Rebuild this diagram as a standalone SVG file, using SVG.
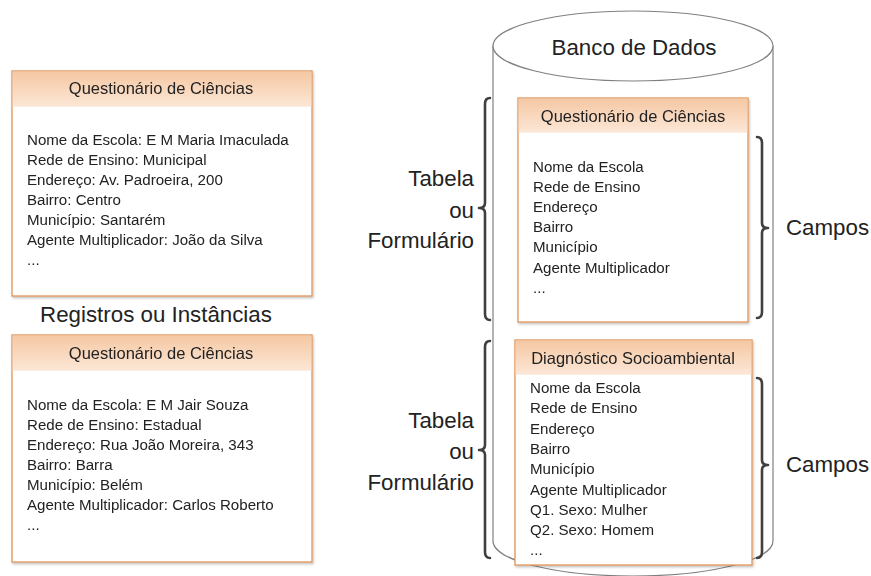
<svg xmlns="http://www.w3.org/2000/svg" width="871" height="576" viewBox="0 0 871 576">
<defs>
<linearGradient id="hdr" x1="0" y1="0" x2="0" y2="1">
<stop offset="0" stop-color="#F5C8A3"/>
<stop offset="1" stop-color="#FCE7D7"/>
</linearGradient>
<filter id="sh" x="-5%" y="-5%" width="110%" height="110%">
<feDropShadow dx="1" dy="1.5" stdDeviation="1.2" flood-color="#000" flood-opacity="0.25"/>
</filter>
</defs>
<style>
text{font-family:"Liberation Sans",Arial,sans-serif;fill:#222}
.box{fill:#fff;stroke:#E0955A;stroke-width:1.3}
.hd{fill:url(#hdr)}
.ht{font-size:16.5px;text-anchor:middle}
.bt{font-size:15.1px}
.big{font-size:22.3px}
.r{text-anchor:end}
.brace{fill:none;stroke:#404040;stroke-width:2.6;stroke-linejoin:round;stroke-linecap:round}
.cyl{fill:#fff;stroke:#808080;stroke-width:1.2}
</style>
<rect width="871" height="576" fill="#fff"/>

<g id="database">
<path class="cyl" d="M493,46 L493,541 A140,35 0 0 0 773,541 L773,46"/>
<ellipse class="cyl" cx="633" cy="46" rx="140" ry="35"/>
<text class="big" x="634" y="55" text-anchor="middle">Banco de Dados</text>
</g>

<g id="record1" filter="url(#sh)">
<rect class="box" x="12" y="71" width="300" height="225"/>
<rect class="hd" x="12.7" y="71.7" width="298.6" height="35"/>
<text class="ht" x="161" y="94">Questionário de Ciências</text>
<text class="bt" x="27" y="145">Nome da Escola: E M Maria Imaculada</text>
<text class="bt" x="27" y="165">Rede de Ensino: Municipal</text>
<text class="bt" x="27" y="185">Endereço: Av. Padroeira, 200</text>
<text class="bt" x="27" y="205">Bairro: Centro</text>
<text class="bt" x="27" y="225">Município: Santarém</text>
<text class="bt" x="27" y="245">Agente Multiplicador: João da Silva</text>
<text class="bt" x="27" y="265">...</text>
</g>

<text class="big" x="156" y="322" text-anchor="middle">Registros ou Instâncias</text>

<g id="record2" filter="url(#sh)">
<rect class="box" x="12" y="335" width="300" height="227"/>
<rect class="hd" x="12.7" y="335.7" width="298.6" height="35"/>
<text class="ht" x="161" y="359">Questionário de Ciências</text>
<text class="bt" x="27" y="410">Nome da Escola: E M Jair Souza</text>
<text class="bt" x="27" y="430">Rede de Ensino: Estadual</text>
<text class="bt" x="27" y="450">Endereço: Rua João Moreira, 343</text>
<text class="bt" x="27" y="470">Bairro: Barra</text>
<text class="bt" x="27" y="490">Município: Belém</text>
<text class="bt" x="27" y="510">Agente Multiplicador: Carlos Roberto</text>
<text class="bt" x="27" y="530">...</text>
</g>

<g id="table1" filter="url(#sh)">
<rect class="box" x="518" y="98" width="230" height="224"/>
<rect class="hd" x="518.7" y="98.7" width="228.6" height="34"/>
<text class="ht" x="633" y="122">Questionário de Ciências</text>
<text class="bt" x="533" y="172">Nome da Escola</text>
<text class="bt" x="533" y="192">Rede de Ensino</text>
<text class="bt" x="533" y="212">Endereço</text>
<text class="bt" x="533" y="232">Bairro</text>
<text class="bt" x="533" y="252">Município</text>
<text class="bt" x="533" y="273">Agente Multiplicador</text>
<text class="bt" x="533" y="293">...</text>
</g>

<g id="table2" filter="url(#sh)">
<rect class="box" x="515" y="340" width="237" height="225"/>
<rect class="hd" x="515.7" y="340.7" width="235.6" height="34"/>
<text class="ht" x="633" y="364">Diagnóstico Socioambiental</text>
<text class="bt" x="530" y="393">Nome da Escola</text>
<text class="bt" x="530" y="413">Rede de Ensino</text>
<text class="bt" x="530" y="434">Endereço</text>
<text class="bt" x="530" y="454">Bairro</text>
<text class="bt" x="530" y="474">Município</text>
<text class="bt" x="530" y="495">Agente Multiplicador</text>
<text class="bt" x="530" y="515">Q1. Sexo: Mulher</text>
<text class="bt" x="530" y="535">Q2. Sexo: Homem</text>
<text class="bt" x="530" y="555">...</text>
</g>

<g id="connectors">
<path class="brace" d="M490,98 Q485,98 485,104 L485,203 Q485,208 479,208 Q485,208 485,213 L485,314 Q485,320 490,320"/>
<path class="brace" d="M490,341 Q485,341 485,347 L485,445 Q485,450 479,450 Q485,450 485,455 L485,552 Q485,558 490,558"/>
<path class="brace" d="M757,137 Q762,137 762,143 L762,223 Q762,228 768,228 Q762,228 762,233 L762,312 Q762,318 757,318"/>
<path class="brace" d="M757,378 Q762,378 762,384 L762,460 Q762,465 768,465 Q762,465 762,470 L762,552 Q762,558 757,558"/>
</g>

<g id="labels">
<text class="big r" x="474" y="186">Tabela</text>
<text class="big r" x="474" y="218">ou</text>
<text class="big r" x="474" y="248">Formulário</text>
<text class="big r" x="474" y="428">Tabela</text>
<text class="big r" x="474" y="459">ou</text>
<text class="big r" x="474" y="490">Formulário</text>
<text class="big" x="786" y="235">Campos</text>
<text class="big" x="786" y="472">Campos</text>
</g>
</svg>
